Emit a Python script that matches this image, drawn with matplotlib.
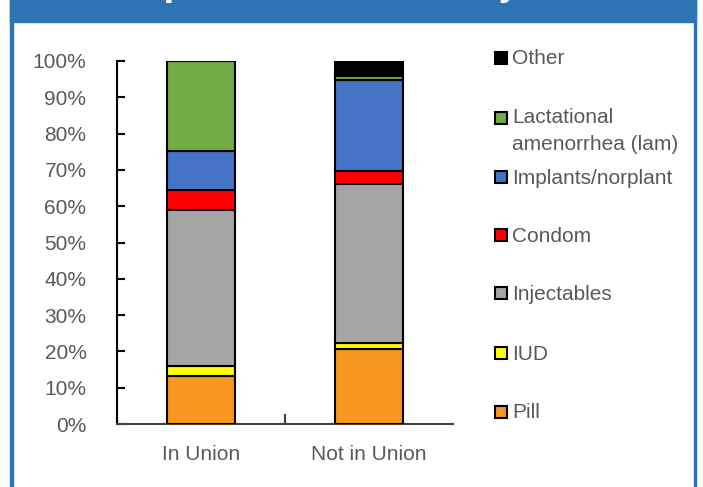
import numpy as np
import matplotlib
matplotlib.use("Agg")
from matplotlib import pyplot as plt
from matplotlib.patches import Rectangle

# data (percent of users by method)
groups = ["In Union", "Not in Union"]
methods = ["Pill", "IUD", "Injectables", "Condom", "Implants/norplant",
           "Lactational\namenorrhea (lam)", "Other"]
pill = [13.2, 20.7]
iud = [2.9, 1.7]
injectables = [42.9, 43.6]
condom = [5.5, 3.8]
implants = [10.7, 25.0]
lam = [24.8, 1.1]
other = [0.0, 4.1]
series = [pill, iud, injectables, condom, implants, lam, other]
colors = ["#F8961E", "#FFFF00", "#A5A5A5", "#FF0000", "#4472C4", "#70AD47", "#000000"]

plt.rcParams['font.family'] = ['Liberation Sans', 'DejaVu Sans']
txt_col = "#595959"
blue = "#2E74B5"
fs = 15

W, H = 703, 487
fig = plt.figure(figsize=(W / 100, H / 100), dpi=100)

# frame: top band + side lines
fig.add_artist(Rectangle((10 / W, 1 - 22 / H), 686 / W, 22 / H, transform=fig.transFigure,
                         color=blue, zorder=0))
fig.add_artist(Rectangle((10 / W, 0), 2.5 / W, 1, transform=fig.transFigure, color=blue))
fig.add_artist(Rectangle((693.5 / W, 0), 2.5 / W, 1, transform=fig.transFigure, color=blue))
# title sits mostly above the visible area, as in the source image
fig.text(376 / W, 1 + 3 / H, "Contraceptive method mix by union status", ha="center",
         va="baseline", color="white", fontsize=22, fontweight="bold", family="DejaVu Sans")

ax = fig.add_axes([117 / W, 63 / H, 336 / W, 363 / H])
x = np.arange(len(groups))
bottom = np.zeros(len(groups))
for vals, c in zip(series, colors):
    ax.bar(x, vals, 0.4, bottom=bottom, color=c, edgecolor="black", linewidth=1.5, zorder=3)
    bottom += np.array(vals)

ax.set_xlim(-0.5, 1.5)
ax.set_ylim(0, 100)
ax.set_yticks(np.arange(0, 101, 10))
ax.set_yticklabels([f"{v}%" for v in range(0, 101, 10)])
ax.set_xticks(x)
ax.set_xticklabels(groups)
ax.set_xticks([0.5], minor=True)
ax.tick_params(axis="x", which="major", length=0, pad=15, labelsize=fs, labelcolor=txt_col)
ax.tick_params(axis="x", which="minor", direction="in", length=7, width=1.5, color="#404040")
ax.tick_params(axis="y", direction="in", length=6, width=1.5, pad=22, labelsize=fs,
               labelcolor=txt_col)
for s in ["top", "right"]:
    ax.spines[s].set_visible(False)
ax.spines["left"].set_linewidth(1.5)
ax.spines["bottom"].set_linewidth(1.5)
ax.spines["bottom"].set_color("#404040")

# legend, drawn by hand so the marker sits on the first line
leg_y = [412, 353, 293, 235, 177, 118, 58]
for name, c, yy in zip(methods, colors, leg_y):
    fig.add_artist(Rectangle((495 / W, 1 - (yy + 6) / H), 12 / W, 12 / H,
                             transform=fig.transFigure, facecolor=c, edgecolor="black",
                             linewidth=1.5))
    if "\n" in name:
        fig.text(512 / W, 1 - (yy + 13) / H, name, ha="left", va="center", color=txt_col,
                 fontsize=fs, linespacing=1.5)
    else:
        fig.text(512 / W, 1 - (yy + 1) / H, name, ha="left", va="center", color=txt_col,
                 fontsize=fs)

fig.savefig("out.png", dpi=100)
